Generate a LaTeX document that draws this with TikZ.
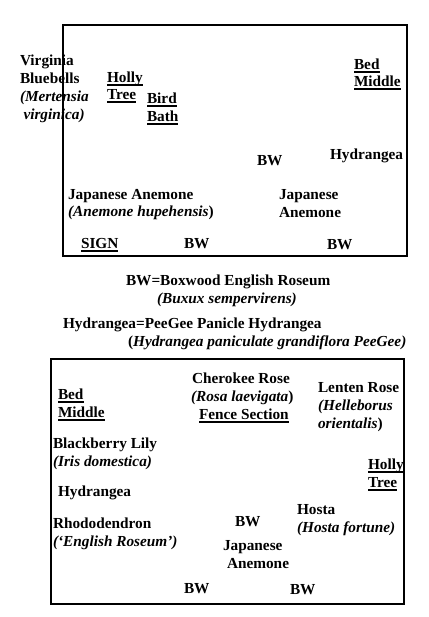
\documentclass[tikz,border=0pt]{standalone}
\usepackage{fontspec}
\setmainfont{Liberation Serif}
\begin{document}
\begin{tikzpicture}[x=1pt,y=-1pt,
  lbl/.style={anchor=base west, inner sep=0pt, outer sep=0pt, font=\fontsize{15.3}{17}\selectfont\bfseries},
  itl/.style={lbl, font=\fontsize{15.3}{17}\selectfont\bfseries\itshape},
  bed/.style={draw=black, line width=2pt},
  uline/.style={draw=black, line width=1.1pt}]
\useasboundingbox (0,0) rectangle (428,617);
\fill[white] (0,0) rectangle (428,617);
% boxes
\draw[bed] (63,25) rectangle (407,256);
\draw[bed] (51,359) rectangle (404,604);
\begin{scope}[yshift=-1.5pt]
% top box
\node[lbl] (vb1) at (20,64) {Virginia};
\node[lbl] (vb2) at (20,82) {Bluebells};
\node[itl] (vb3) at (20,100) {(Mertensia};
\node[itl] (vb4) at (23.5,118) {virginica)};
\node[lbl] (holly1) at (107,81) {Holly};
\node[lbl] (holly2) at (107,98) {Tree};
\node[lbl] (bird1) at (147,102) {Bird};
\node[lbl] (bird2) at (147,120) {Bath};
\node[lbl] (bed1) at (354,68) {Bed};
\node[lbl] (bed2) at (354,85) {Middle};
\node[lbl] (bwA) at (257,164) {BW};
\node[lbl] (hydA) at (330,158) {Hydrangea};
\node[lbl] (ja1) at (279,198) {Japanese};
\node[lbl] (ja2) at (279,216) {Anemone};
\node[lbl] (jb1) at (68,198) {Japanese Anemone};
\node[lbl] (jb2) at (68,215) {{\itshape(Anemone hupehensis\/})};
\node[lbl] (sign) at (81,247) {SIGN};
\node[lbl] (bwC) at (184,247) {BW};
\node[lbl] (bwB) at (327,248) {BW};
% legend
\node[lbl] (leg1) at (126,284) {BW=Boxwood English Roseum};
\node[itl] (leg2) at (157,302) {(Buxux sempervirens)};
\node[lbl] (leg3) at (63,327) {Hydrangea=PeeGee Panicle Hydrangea};
\node[lbl] (leg4) at (128,345) {({\itshape Hydrangea paniculate grandiflora PeeGee)}};
% bottom box
\node[lbl] (bed3) at (58,398) {Bed};
\node[lbl] (bed4) at (58,416) {Middle};
\node[lbl] (bl1) at (53,447) {Blackberry Lily};
\node[itl] (bl2) at (53,465) {(Iris domestica)};
\node[lbl] (hydB) at (58,495) {Hydrangea};
\node[lbl] (rh1) at (53,527) {Rhododendron};
\node[itl] (rh2) at (53,545) {(‘English Roseum’)};
\node[lbl] (ch1) at (192,382) {Cherokee Rose};
\node[lbl] (ch2) at (191,400) {{\itshape(Rosa laevigata\/})};
\node[lbl] (fence) at (199,418) {Fence Section};
\node[lbl] (lr1) at (318,391) {Lenten Rose};
\node[itl] (lr2) at (318,409) {(Helleborus};
\node[lbl] (lr3) at (318,427) {{\itshape orientalis\/})};
\node[lbl] (holly3) at (368,468) {Holly};
\node[lbl] (holly4) at (368,486) {Tree};
\node[lbl] (hosta1) at (297,513) {Hosta};
\node[itl] (hosta2) at (297,531) {(Hosta fortune)};
\node[lbl] (bwD) at (235,525) {BW};
\node[lbl] (jc1) at (223,549) {Japanese};
\node[lbl] (jc2) at (227,567) {Anemone};
\node[lbl] (bwE) at (184,592) {BW};
\node[lbl] (bwF) at (290,593) {BW};
% underlines
\foreach \n in {holly1,holly2,bird1,bird2,bed1,bed2,sign,bed3,bed4,fence,holly3,holly4}
  \draw[uline] ([yshift=-2.5pt]\n.base west) -- ([yshift=-2.5pt]\n.base east);
\end{scope}
\end{tikzpicture}
\end{document}
